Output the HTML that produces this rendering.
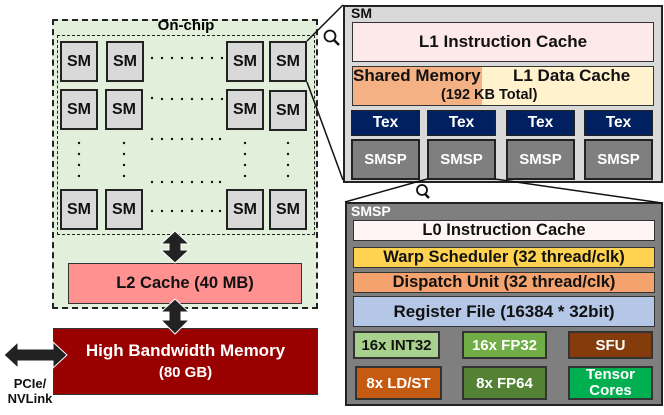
<!DOCTYPE html>
<html><head><style>
*{margin:0;padding:0;box-sizing:border-box}
body{width:664px;height:415px;background:#fff;position:relative;overflow:hidden;font-family:"Liberation Sans",Arial,sans-serif;font-weight:bold}
.a{position:absolute;display:flex;align-items:center;justify-content:center;text-align:center;white-space:nowrap}
.sm{position:absolute;width:38px;height:41px;background:#d9d9d9;border:2px solid #222;display:flex;align-items:center;justify-content:center;font-size:16px;color:#111}
.b{border:1.5px solid #333}
.tex{background:#002060;color:#fff;font-size:15.5px;border:1.5px solid #222}
.smsp{background:#7f7f7f;color:#fff;font-size:15px;border:2px solid #222}
.u{font-size:15px;border:2px solid #333}
</style></head><body>
<div style="position:absolute;left:52px;top:19px;width:266px;height:290px;background:#e2efda;border:2px dashed #222"></div>
<div style="position:absolute;left:57px;top:35px;width:258px;height:200px;border:1.5px dashed #222"></div>
<div class="a" style="left:146px;top:17px;width:80px;height:17px;font-size:15px">On-chip</div>

<div class="sm" style="left:60px;top:41px">SM</div>
<div class="sm" style="left:106px;top:41px">SM</div>
<div class="sm" style="left:226px;top:41px">SM</div>
<div class="sm" style="left:269px;top:41px">SM</div>
<div class="sm" style="left:60px;top:89px">SM</div>
<div class="sm" style="left:105px;top:89px">SM</div>
<div class="sm" style="left:226px;top:89px">SM</div>
<div class="sm" style="left:269px;top:90px">SM</div>
<div class="sm" style="left:60px;top:189px">SM</div>
<div class="sm" style="left:105px;top:189px">SM</div>
<div class="sm" style="left:226px;top:189px">SM</div>
<div class="sm" style="left:269px;top:189px">SM</div>

<div class="a b" style="left:68px;top:263px;width:234px;height:41px;background:#ff9191;font-size:16.5px;color:#111">L2 Cache (40 MB)</div>
<div class="a" style="left:53px;top:328px;width:265px;height:67px;background:#990000;border:1.5px solid #333;color:#fff;font-size:17px;flex-direction:column;line-height:22px">High Bandwidth Memory<br><span style="font-size:15px">(80 GB)</span></div>
<div class="a" style="left:2px;top:376px;width:56px;height:30px;font-size:13px;line-height:15px;color:#111">PCIe/<br>NVLink</div>

<!-- SM panel -->
<div style="position:absolute;left:343px;top:5px;width:320px;height:178px;background:#d9d9d9;border:2px solid #222"></div>
<div style="position:absolute;left:351px;top:5px;font-size:14px;color:#111">SM</div>
<div class="a b" style="left:352px;top:22px;width:302px;height:40px;background:#fde9e9;font-size:17px;color:#111">L1 Instruction Cache</div>
<div style="position:absolute;left:352px;top:66px;width:130px;height:40px;background:#f4b183;border:1.5px solid #333;border-right:none"></div>
<div style="position:absolute;left:482px;top:66px;width:172px;height:40px;background:#fff2cc;border:1.5px solid #333;border-left:none"></div>
<div style="position:absolute;left:353px;top:66px;font-size:17px;color:#111">Shared Memory</div>
<div style="position:absolute;left:513px;top:66px;font-size:17px;color:#111">L1 Data Cache</div>
<div style="position:absolute;left:441px;top:87px;font-size:14.5px;color:#111">(192 KB Total)</div>
<div class="a tex" style="left:351px;top:110px;width:69px;height:26px">Tex</div>
<div class="a tex" style="left:427px;top:110px;width:69px;height:26px">Tex</div>
<div class="a tex" style="left:506px;top:110px;width:69px;height:26px">Tex</div>
<div class="a tex" style="left:584px;top:110px;width:69px;height:26px">Tex</div>
<div class="a smsp" style="left:351px;top:139px;width:69px;height:41px">SMSP</div>
<div class="a smsp" style="left:427px;top:139px;width:69px;height:41px">SMSP</div>
<div class="a smsp" style="left:506px;top:139px;width:69px;height:41px">SMSP</div>
<div class="a smsp" style="left:584px;top:139px;width:69px;height:41px">SMSP</div>

<!-- SMSP panel -->
<div style="position:absolute;left:345px;top:202px;width:318px;height:204px;background:#7f7f7f;border:2px solid #222"></div>
<div style="position:absolute;left:351px;top:203px;font-size:14px;color:#fff">SMSP</div>
<div class="a b" style="left:353px;top:220px;width:302px;height:21px;background:#fff5f5;font-size:16.5px;color:#111">L0 Instruction Cache</div>
<div class="a b" style="left:353px;top:247px;width:302px;height:21px;background:#ffd34f;font-size:16.5px;color:#111">Warp Scheduler (32 thread/clk)</div>
<div class="a b" style="left:353px;top:272px;width:302px;height:21px;background:#f4a36e;font-size:16.5px;color:#111">Dispatch Unit (32 thread/clk)</div>
<div class="a b" style="left:353px;top:296px;width:302px;height:31px;background:#b4c7e7;font-size:17px;color:#111">Register File (16384 * 32bit)</div>
<div class="a u" style="left:353px;top:331px;width:87px;height:28px;background:#a9d18e;color:#111">16x INT32</div>
<div class="a u" style="left:462px;top:331px;width:85px;height:28px;background:#70ad47;color:#fff">16x FP32</div>
<div class="a u" style="left:568px;top:331px;width:85px;height:28px;background:#843c0c;color:#fff">SFU</div>
<div class="a u" style="left:355px;top:366px;width:87px;height:34px;background:#c55a11;color:#fff">8x LD/ST</div>
<div class="a u" style="left:462px;top:366px;width:85px;height:34px;background:#548235;color:#fff">8x FP64</div>
<div class="a u" style="left:568px;top:366px;width:85px;height:34px;background:#00b050;color:#fff;line-height:16px">Tensor<br>Cores</div>

<svg width="664" height="415" style="position:absolute;left:0;top:0" >
<g fill="#111">
<circle cx="152" cy="58" r="1.2"/><circle cx="162" cy="58" r="1.2"/><circle cx="172" cy="58" r="1.2"/><circle cx="182" cy="58" r="1.2"/><circle cx="192" cy="58" r="1.2"/><circle cx="202" cy="58" r="1.2"/><circle cx="212" cy="58" r="1.2"/><circle cx="222" cy="58" r="1.2"/>
<circle cx="152" cy="98" r="1.2"/><circle cx="162" cy="99" r="1.2"/><circle cx="172" cy="99" r="1.2"/><circle cx="182" cy="99" r="1.2"/><circle cx="192" cy="99" r="1.2"/><circle cx="202" cy="99" r="1.2"/><circle cx="212" cy="99" r="1.2"/><circle cx="222" cy="99" r="1.2"/>
<circle cx="152" cy="139" r="1.2"/><circle cx="162" cy="139" r="1.2"/><circle cx="172" cy="139" r="1.2"/><circle cx="182" cy="139" r="1.2"/><circle cx="192" cy="139" r="1.2"/><circle cx="202" cy="139" r="1.2"/><circle cx="212" cy="139" r="1.2"/><circle cx="220" cy="139" r="1.2"/>
<circle cx="152" cy="182" r="1.2"/><circle cx="162" cy="182" r="1.2"/><circle cx="172" cy="182" r="1.2"/><circle cx="182" cy="182" r="1.2"/><circle cx="192" cy="182" r="1.2"/><circle cx="202" cy="182" r="1.2"/><circle cx="212" cy="182" r="1.2"/><circle cx="220" cy="182" r="1.2"/>
<circle cx="152" cy="211" r="1.2"/><circle cx="162" cy="211" r="1.2"/><circle cx="172" cy="211" r="1.2"/><circle cx="182" cy="211" r="1.2"/><circle cx="192" cy="211" r="1.2"/><circle cx="202" cy="211" r="1.2"/><circle cx="212" cy="211" r="1.2"/><circle cx="220" cy="211" r="1.2"/>
<circle cx="79" cy="143" r="1.2"/><circle cx="79" cy="154" r="1.2"/><circle cx="79" cy="165" r="1.2"/><circle cx="79" cy="176" r="1.2"/>
<circle cx="124" cy="143" r="1.2"/><circle cx="124" cy="154" r="1.2"/><circle cx="124" cy="165" r="1.2"/><circle cx="124" cy="176" r="1.2"/>
<circle cx="245" cy="143" r="1.2"/><circle cx="245" cy="154" r="1.2"/><circle cx="245" cy="165" r="1.2"/><circle cx="245" cy="176" r="1.2"/>
<circle cx="288" cy="143" r="1.2"/><circle cx="288" cy="154" r="1.2"/><circle cx="288" cy="165" r="1.2"/><circle cx="288" cy="176" r="1.2"/>
</g>
<g stroke="#111" stroke-width="1.5" fill="none">
<line x1="307" y1="41" x2="343" y2="5"/>
<line x1="307" y1="82" x2="343" y2="180"/>
<line x1="427" y1="179" x2="345" y2="202"/>
<line x1="495" y1="179" x2="662" y2="203"/>
<circle cx="330" cy="36" r="5.5" fill="#fff" stroke-width="1.8"/>
<line x1="334" y1="40" x2="339" y2="45" stroke-width="2.5"/>
<circle cx="422" cy="190" r="5" fill="#fff" stroke-width="1.8"/>
<line x1="425" y1="194" x2="429" y2="198" stroke-width="2.5"/>
</g>
<g fill="#222" stroke="#fff" stroke-width="1">
<polygon points="175,231 189,244 181,244 181,250 189,250 175,263 161,250 169,250 169,244 161,244"/>
<polygon points="175,299 189,312 181,312 181,320 189,320 175,334 161,320 169,320 169,312 161,312"/>
<polygon points="4,355 18,342 18,349 53,349 53,342 67,355 53,368 53,361 18,361 18,368"/>
</g>
</svg>
</body></html>
